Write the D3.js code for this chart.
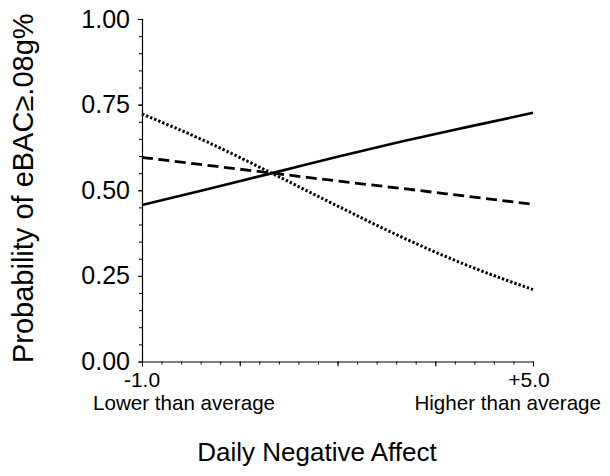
<!DOCTYPE html>
<html>
<head>
<meta charset="utf-8">
<script src="https://cdn.jsdelivr.net/npm/d3@7"></script>
<style>
  html, body { margin: 0; padding: 0; background: #fff; }
  text { font-family: Arial, "Liberation Sans", sans-serif; fill: #000; }
</style>
</head>
<body>
<svg id="chart" width="610" height="476"></svg>
<script>
// ---- data ----
const xValues = [-1, 0, 1, 2, 3, 4, 5];
const solidSeries  = [0.457, 0.503, 0.550, 0.598, 0.643, 0.685, 0.726];
const dashedSeries = [0.596, 0.573, 0.550, 0.527, 0.505, 0.482, 0.459];
const dottedSeries = [0.723, 0.641, 0.549, 0.454, 0.362, 0.280, 0.210];
const yTickLabels = ["0.00", "0.25", "0.50", "0.75", "1.00"];
const yMajorTicks = [0, 0.25, 0.5, 0.75, 1.0];
const yMinorTicks = d3.range(0, 1.0001, 0.05);
const xMajorTicks = [-1, 0.5, 2, 3.5, 5];
const xMinorTicks = d3.range(-1, 5.0001, 0.3);
const xTickLabels = ["-1.0", "+5.0"];
const xTickLabelValues = [-1, 5];
const xEndLabels = ["Lower than average", "Higher than average"];
const xTitle = "Daily Negative Affect";
const yTitle = "Probability of eBAC\u2265.08g%";

// ---- layout ----
const svg = d3.select("#chart");
const x = d3.scaleLinear().domain([-1, 5]).range([142, 533]);
const y = d3.scaleLinear().domain([0, 1]).range([361.5, 19]);

// y axis: minor ticks
const yMinorAxis = d3.axisLeft(y).tickValues(yMinorTicks).tickSize(3).tickFormat("");
svg.append("g").attr("transform", `translate(${x(-1)},0)`).call(yMinorAxis)
  .call(g => g.selectAll(".tick line").attr("x2", -3).attr("x1", 1))
  .call(g => g.select(".domain").remove());
// y axis: major ticks + labels
const yAxis = d3.axisLeft(y).tickValues(yMajorTicks).tickSize(4).tickPadding(8)
  .tickFormat((d, i) => yTickLabels[i]);
svg.append("g").attr("transform", `translate(${x(-1)},0)`).call(yAxis)
  .call(g => g.select(".domain").attr("d", `M0.5,${y(1)}V${y(0)}`).attr("stroke", "#000").attr("stroke-width", 1.2))
  .call(g => g.selectAll(".tick text").attr("font-size", 25).attr("font-family", "Arial, 'Liberation Sans', sans-serif").attr("fill", "#000"));

// x axis: minor ticks
const xMinorAxis = d3.axisBottom(x).tickValues(xMinorTicks).tickSize(3).tickFormat("");
svg.append("g").attr("transform", `translate(0,${y(0)})`).call(xMinorAxis)
  .call(g => g.select(".domain").remove());
// x axis: major ticks
const xAxis = d3.axisBottom(x).tickValues(xMajorTicks).tickSize(5).tickFormat("");
svg.append("g").attr("transform", `translate(0,${y(0)})`).call(xAxis)
  .call(g => g.select(".domain").attr("d", `M${x(-1)},0.5H${x(5)}`).attr("stroke", "#000").attr("stroke-width", 1.2));

// x tick labels
svg.append("g").selectAll("text").data(xTickLabels).join("text")
  .attr("x", (d, i) => x(xTickLabelValues[i]) + (i === 0 ? 0 : -4))
  .attr("y", y(0) + 25)
  .attr("text-anchor", "middle")
  .attr("font-size", 21)
  .text(d => d);

// end labels
svg.append("text").attr("x", x(-1) - 49).attr("y", 410)
  .attr("font-size", 20.6).attr("text-anchor", "start").text(xEndLabels[0]);
svg.append("text").attr("x", x(5) + 68).attr("y", 410)
  .attr("font-size", 20.6).attr("text-anchor", "end").text(xEndLabels[1]);

// axis titles
svg.append("text").attr("x", 317).attr("y", 461)
  .attr("font-size", 26).attr("text-anchor", "middle").text(xTitle);
svg.append("text")
  .attr("transform", `translate(33,${(y(0) + y(1)) / 2 - 2}) rotate(-90)`)
  .attr("font-size", 29).attr("text-anchor", "middle").text(yTitle);

// lines
const line = d3.line().x((d, i) => x(xValues[i])).y(d => y(d)).curve(d3.curveMonotoneX);
const series = [
  { values: solidSeries, dash: null, w: 2.6 },
  { values: dashedSeries, dash: "11,5.5", w: 2.8 },
  { values: dottedSeries, dash: "2.4,2", w: 3 }
];
svg.append("g").selectAll("path").data(series).join("path")
  .attr("d", d => line(d.values))
  .attr("fill", "none")
  .attr("stroke", "#000")
  .attr("stroke-width", d => d.w)
  .attr("stroke-dasharray", d => d.dash);
</script>
</body>
</html>
